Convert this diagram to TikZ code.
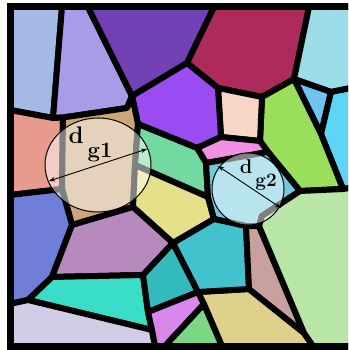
\documentclass[tikz,border=0pt]{standalone}
\usepackage{fontspec}
\usetikzlibrary{arrows.meta}
\definecolor{cTL}{HTML}{A3B9E6}
\definecolor{cLav}{HTML}{A99BE8}
\definecolor{cDP}{HTML}{7341B6}
\definecolor{cMar}{HTML}{AD2B5A}
\definecolor{cLC}{HTML}{9ADDE9}
\definecolor{cSky}{HTML}{6EC3F0}
\definecolor{cBC}{HTML}{5CD5F7}
\definecolor{cLime}{HTML}{9ADE5C}
\definecolor{cPeach}{HTML}{F6D6C4}
\definecolor{cBP}{HTML}{9A4CF2}
\definecolor{cPink}{HTML}{F48FE6}
\definecolor{cSal}{HTML}{E89A8C}
\definecolor{cTan}{HTML}{CDA578}
\definecolor{cMint}{HTML}{72D9A0}
\definecolor{cYel}{HTML}{E6DF8A}
\definecolor{cLB}{HTML}{6FCAE0}
\definecolor{cPeri}{HTML}{6F7FD7}
\definecolor{cMauve}{HTML}{B68ABD}
\definecolor{cTurq}{HTML}{3ADDC8}
\definecolor{cLG}{HTML}{D2CDE6}
\definecolor{cDT}{HTML}{33BCBB}
\definecolor{cOrch}{HTML}{D887EA}
\definecolor{cGreen}{HTML}{7AD884}
\definecolor{cKhaki}{HTML}{DFD08C}
\definecolor{cTeal}{HTML}{42C2CC}
\definecolor{cRosy}{HTML}{C9A0A0}
\definecolor{cLGreen}{HTML}{B7E6A6}
\begin{document}
\begin{tikzpicture}[x=1pt,y=-1pt,
  cell/.style={draw=black,line width=6pt,line join=round},
  grain/.style={fill=white,fill opacity=0.5,draw=black,draw opacity=1,line width=1pt},
  dim/.style={{Stealth[length=6pt,width=4.5pt]}-{Stealth[length=6pt,width=4.5pt]},line width=0.9pt},
  lbl/.style={inner sep=0pt,text=black}]
\useasboundingbox (0,0) rectangle (348,350);
\fill[white] (0,0) rectangle (348,350);
% vertices
\coordinate (F0) at (10,7); \coordinate (FTR) at (356,7);
\coordinate (FBL) at (10,346); \coordinate (FBR) at (356,346);
\coordinate (T1) at (62,7); \coordinate (T2) at (88,7);
\coordinate (Mt1) at (214,7); \coordinate (Mt2) at (309,7);
\coordinate (P1) at (53,118); \coordinate (Ps) at (63,117.5);
\coordinate (P3) at (127,108); \coordinate (P2) at (132,96);
\coordinate (P4) at (187,63); \coordinate (P5) at (218,88);
\coordinate (P6) at (221,137); \coordinate (P7) at (197,148);
\coordinate (P8) at (138,124);
\coordinate (L1) at (10,110); \coordinate (L2) at (10,195); \coordinate (L3) at (10,304);
\coordinate (R0) at (262,97); \coordinate (R1) at (260,141);
\coordinate (R2) at (268,152); \coordinate (R3) at (206,163);
\coordinate (R4) at (300,191);
\coordinate (Ra) at (294,79); \coordinate (Cb) at (331,92);
\coordinate (Cr) at (356,87); \coordinate (Sb) at (321,134);
\coordinate (C3) at (343,189); \coordinate (Gr3) at (356,187);
\coordinate (Q1) at (135,165); \coordinate (Q2) at (133,207);
\coordinate (M1) at (208,197); \coordinate (Y1) at (214,219);
\coordinate (E) at (173,243);
\coordinate (S3) at (62,189); \coordinate (TB) at (72,225);
\coordinate (A) at (52,277); \coordinate (B) at (28,300);
\coordinate (D) at (143,275); \coordinate (F) at (148,312);
\coordinate (C) at (152,330); \coordinate (G) at (155,346);
\coordinate (V) at (198,292); \coordinate (Gn) at (204,304);
\coordinate (Gb) at (165,346); \coordinate (Gr) at (222,346);
\coordinate (R6) at (249,289); \coordinate (K) at (304,333);
\coordinate (Kb) at (313,346);
\coordinate (RB0) at (246,226); \coordinate (RB1) at (259,226);
\coordinate (LGc) at (262,216);
\begin{scope}
\clip (0,0) rectangle (348,350);
\filldraw[cell,fill=cTL] (F0) -- (T1) -- (P1) -- (L1) -- cycle;
\filldraw[cell,fill=cLav] (T1) -- (T2) -- (P2) -- (P3) -- (Ps) -- (P1) -- cycle;
\filldraw[cell,fill=cDP] (T2) -- (Mt1) -- (P4) -- (P2) -- cycle;
\filldraw[cell,fill=cMar] (Mt1) -- (Mt2) -- (Ra) -- (R0) -- (P5) -- (P4) -- cycle;
\filldraw[cell,fill=cLC] (Mt2) -- (FTR) -- (Cr) -- (Cb) -- (Ra) -- cycle;
\filldraw[cell,fill=cSky] (Ra) -- (Cb) -- (Sb) -- cycle;
\filldraw[cell,fill=cBC] (Cb) -- (Cr) -- (Gr3) -- (C3) -- (Sb) -- cycle;
\filldraw[cell,fill=cLime] (R0) -- (Ra) -- (Sb) -- (C3) -- (R4) -- (R2) -- (R1) -- cycle;
\filldraw[cell,fill=cPeach] (P5) -- (R0) -- (R1) -- (P6) -- cycle;
\filldraw[cell,fill=cBP] (P2) -- (P4) -- (P5) -- (P6) -- (P7) -- (P8) -- cycle;
\filldraw[cell,fill=cPink] (P7) -- (P6) -- (R1) -- (R2) -- (R3) -- cycle;
\filldraw[cell,fill=cSal] (L1) -- (P1) -- (Ps) -- (S3) -- (L2) -- cycle;
\filldraw[cell,fill=cTan] (Ps) -- (P3) -- (P2) -- (P8) -- (Q1) -- (Q2) -- (TB) -- (S3) -- cycle;
\filldraw[cell,fill=cMint] (P8) -- (P7) -- (R3) -- (M1) -- (Q1) -- cycle;
\filldraw[cell,fill=cYel] (Q1) -- (M1) -- (Y1) -- (E) -- (Q2) -- cycle;
\filldraw[cell,fill=cLB] (M1) -- (R3) -- (R2) -- (R4) -- (LGc) -- (RB1) -- (RB0) -- (Y1) -- cycle;
\filldraw[cell,fill=cPeri] (L2) -- (S3) -- (TB) -- (A) -- (B) -- (L3) -- cycle;
\filldraw[cell,fill=cMauve] (TB) -- (Q2) -- (E) -- (D) -- (A) -- cycle;
\filldraw[cell,fill=cTurq] (B) -- (A) -- (D) -- (F) -- (C) -- cycle;
\filldraw[cell,fill=cLG] (L3) -- (B) -- (C) -- (G) -- (FBL) -- cycle;
\filldraw[cell,fill=cDT] (E) -- (V) -- (F) -- (D) -- cycle;
\filldraw[cell,fill=cOrch] (F) -- (V) -- (Gn) -- (Gb) -- (G) -- (C) -- cycle;
\filldraw[cell,fill=cGreen] (Gn) -- (Gr) -- (Gb) -- cycle;
\filldraw[cell,fill=cKhaki] (V) -- (R6) -- (K) -- (Kb) -- (Gr) -- (Gn) -- cycle;
\filldraw[cell,fill=cTeal] (E) -- (Y1) -- (RB0) -- (R6) -- (V) -- cycle;
\filldraw[cell,fill=cRosy] (RB0) -- (RB1) -- (K) -- (R6) -- cycle;
\filldraw[cell,fill=cLGreen] (LGc) -- (R4) -- (C3) -- (Gr3) -- (FBR) -- (Kb) -- (K) -- (RB1) -- cycle;
\draw[line width=7pt,line join=miter] (FTR) -- (F0) -- (FBL) -- (FBR);
% grains
\draw[grain] (98,165) ellipse [x radius=53pt, y radius=47pt];
\draw[grain] (248,189) circle [radius=36pt];
\end{scope}
\coordinate (a1s) at (49,181); \coordinate (a1e) at (147,149);
\coordinate (a2s) at (218,166); \coordinate (a2e) at (281,208);
\draw[dim] (a1s) -- (a1e);
\draw[dim] (a2s) -- (a2e);
\node[lbl,font=\fontsize{24}{24}\selectfont\bfseries] (g1d) at (76,135) {d};
\node[lbl,font=\fontsize{22}{22}\selectfont\bfseries] (g1s) at (100,152) {g1};
\node[lbl,font=\fontsize{20}{20}\selectfont\bfseries] (g2d) at (246,167) {d};
\node[lbl,font=\fontsize{19}{19}\selectfont\bfseries] (g2s) at (266,182) {g2};
\end{tikzpicture}
\end{document}
